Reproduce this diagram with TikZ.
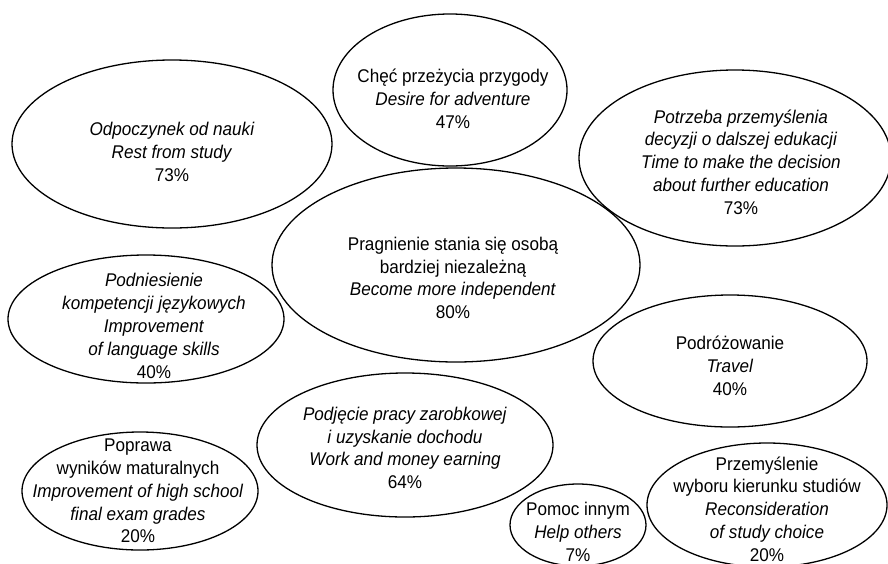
\documentclass[tikz,border=0pt]{standalone}
\usepackage{fontspec}
\setmainfont{Liberation Sans}[FakeStretch=0.93]
\usetikzlibrary{shapes.geometric}
\tikzset{
    %Define style for the ellipses
    bubble/.style={
           ellipse,
           draw=black, line width=1.3pt,
           inner sep=0pt},
    %Define style for the texts inside them
    words/.style={
           font=\fontsize{18.4}{22.8}\selectfont,
           align=center,
           inner sep=0pt}
}
\begin{document}
\begin{tikzpicture}[x=1pt,y=-1pt]
\useasboundingbox (0,0) rectangle (888,563);

 %ellipses
\node[bubble, minimum width=234, minimum height=152,
  label={[words,xshift=3pt,yshift=-9pt]center:{Chęć przeżycia przygody\\\textit{Desire for adventure}\\47\%}}]
  (adventure) at (450,90) {};
\node[bubble, minimum width=320, minimum height=168,
  label={[words,yshift=-8pt]center:{\textit{Odpoczynek od nauki}\\\textit{Rest from study}\\73\%}}]
  (rest) at (172,144) {};
\node[bubble, minimum width=312, minimum height=176,
  label={[words,xshift=6pt,yshift=-4pt]center:{\textit{Potrzeba przemyślenia}\\\textit{decyzji o dalszej edukacji}\\\textit{Time to make the decision}\\\textit{about further education}\\73\%}}]
  (decision) at (735,158) {};
\node[bubble, minimum width=368, minimum height=194,
  label={[words,xshift=-3pt,yshift=-13pt]center:{Pragnienie stania się osobą\\bardziej niezależną\\\textit{Become more independent}\\80\%}}]
  (independent) at (456,265) {};
\node[bubble, minimum width=276, minimum height=128,
  label={[words,xshift=8pt,yshift=-7pt]center:{\textit{Podniesienie}\\\textit{kompetencji językowych}\\\textit{Improvement}\\\textit{of language skills}\\40\%}}]
  (language) at (146,319) {};
\node[bubble, minimum width=236, minimum height=118,
  label={[words,xshift=-2pt]center:{Poprawa\\wyników maturalnych\\\textit{Improvement of high school}\\\textit{final exam grades}\\20\%}}]
  (grades) at (140,491) {};
\node[bubble, minimum width=296, minimum height=144,
  label={[words,yshift=-3pt]center:{\textit{Podjęcie pracy zarobkowej}\\\textit{i uzyskanie dochodu}\\\textit{Work and money earning}\\64\%}}]
  (work) at (405,445) {};
\node[bubble, minimum width=274, minimum height=132,
  label={[words,yshift=-5pt]center:{Podróżowanie\\\textit{Travel}\\40\%}}]
  (travel) at (730,361) {};
\node[bubble, minimum width=136, minimum height=82,
  label={[words,yshift=-7pt]center:{Pomoc innym\\\textit{Help others}\\7\%}}]
  (help) at (578,525) {};
\node[bubble, minimum width=240, minimum height=124,
  label={[words,yshift=-4pt]center:{Przemyślenie\\wyboru kierunku studiów\\\textit{Reconsideration}\\\textit{of study choice}\\20\%}}]
  (reconsider) at (767,505) {};

\end{tikzpicture}
\end{document}
